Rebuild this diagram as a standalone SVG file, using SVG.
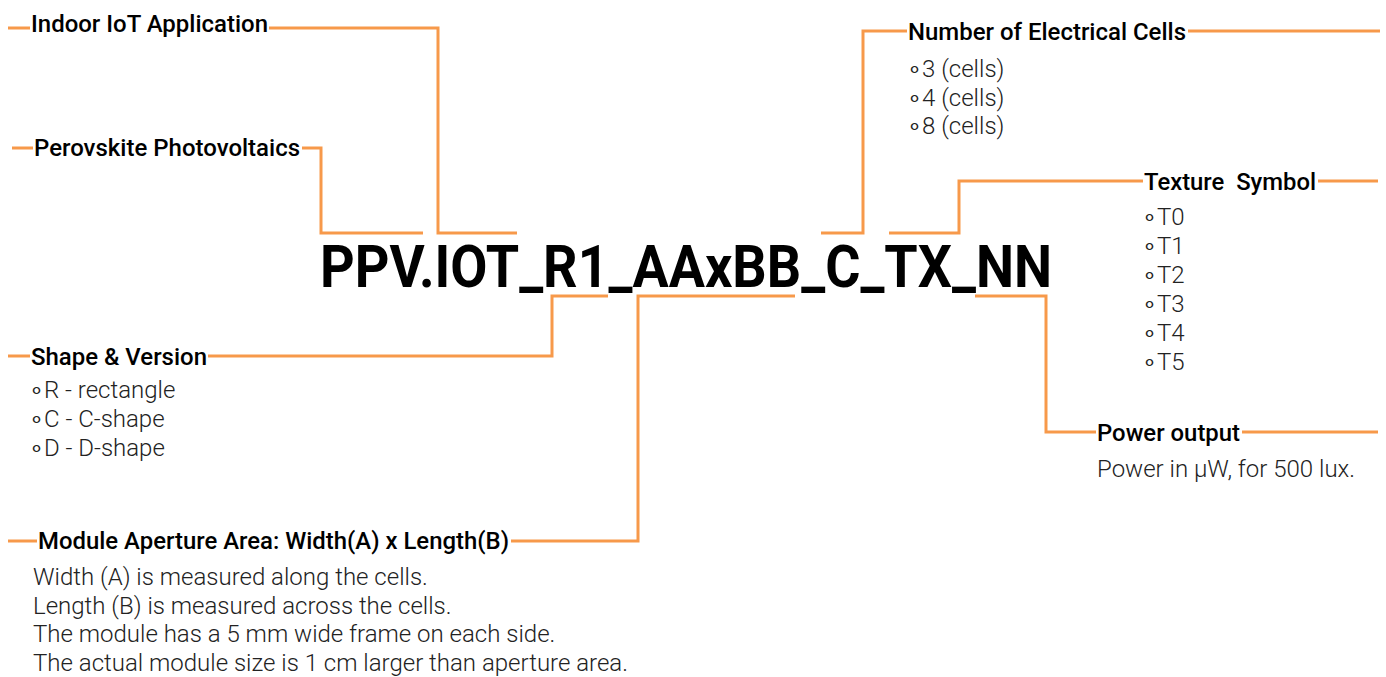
<svg xmlns="http://www.w3.org/2000/svg" width="1386" height="677" viewBox="0 0 1386 677">
<style>
.c{fill:none;stroke:#F7994A;stroke-width:3;stroke-linejoin:miter}
.h{font-family:Roboto,"Liberation Sans",sans-serif;font-weight:500;font-size:23px;fill:#000}
.b{font-family:Roboto,"Liberation Sans",sans-serif;font-weight:300;font-size:24px;fill:#222}
.t{font-family:Roboto,"Liberation Sans",sans-serif;font-weight:700;font-size:60px;fill:#000}
</style>
<rect width="1386" height="677" fill="#fff"/>
<g id="connectors">
<path class="c" d="M8,28 H30 M269,28 H438 V233 H517"/>
<path class="c" d="M12,148 H33 M302,148 H321 V233 H423"/>
<path class="c" d="M821,233 H863 V31 H907 M1188,31 H1380"/>
<path class="c" d="M889,233 H959 V181 H1143 M1318,181 H1378"/>
<path class="c" d="M975,296 H1046 V432 H1096 M1242,432 H1378"/>
<path class="c" d="M608,296 H552 V356 H208 M8,356 H30"/>
<path class="c" d="M795,296 H638 V541 H511 M8,541 H37"/>
</g>
<g id="title"><text class="t" x="320" y="287" textLength="732" lengthAdjust="spacingAndGlyphs">PPV.IOT_R1_AAxBB_C_TX_NN</text></g>
<g id="indoor"><text class="h" x="31" y="32" textLength="237" lengthAdjust="spacingAndGlyphs">Indoor IoT Application</text></g>
<g id="perovskite"><text class="h" x="34" y="156" textLength="266" lengthAdjust="spacingAndGlyphs">Perovskite Photovoltaics</text></g>
<g id="cells">
<text class="h" x="908" y="40" textLength="278" lengthAdjust="spacingAndGlyphs">Number of Electrical Cells</text>
<text class="b" x="907" y="77">∘3 (cells)</text>
<text class="b" x="907" y="106">∘4 (cells)</text>
<text class="b" x="907" y="134">∘8 (cells)</text>
</g>
<g id="texture">
<text class="h" x="1144" y="190" textLength="172" lengthAdjust="spacingAndGlyphs" xml:space="preserve">Texture  Symbol</text>
<text class="b" x="1142" y="225">∘T0</text>
<text class="b" x="1142" y="254">∘T1</text>
<text class="b" x="1142" y="283">∘T2</text>
<text class="b" x="1142" y="312">∘T3</text>
<text class="b" x="1142" y="341">∘T4</text>
<text class="b" x="1142" y="370">∘T5</text>
</g>
<g id="power">
<text class="h" x="1097" y="441" textLength="143" lengthAdjust="spacingAndGlyphs">Power output</text>
<text class="b" x="1097" y="477">Power in μW, for 500 lux.</text>
</g>
<g id="shape">
<text class="h" x="31" y="365" textLength="176" lengthAdjust="spacingAndGlyphs">Shape &amp; Version</text>
<text class="b" x="29" y="398">∘R - rectangle</text>
<text class="b" x="29" y="427">∘C - C-shape</text>
<text class="b" x="29" y="456">∘D - D-shape</text>
</g>
<g id="aperture">
<text class="h" x="38" y="549" textLength="471" lengthAdjust="spacingAndGlyphs">Module Aperture Area: Width(A) x Length(B)</text>
<text class="b" x="33" y="585">Width (A) is measured along the cells.</text>
<text class="b" x="33" y="614">Length (B) is measured across the cells.</text>
<text class="b" x="33" y="642">The module has a 5 mm wide frame on each side.</text>
<text class="b" x="33" y="671">The actual module size is 1 cm larger than aperture area.</text>
</g>
</svg>
